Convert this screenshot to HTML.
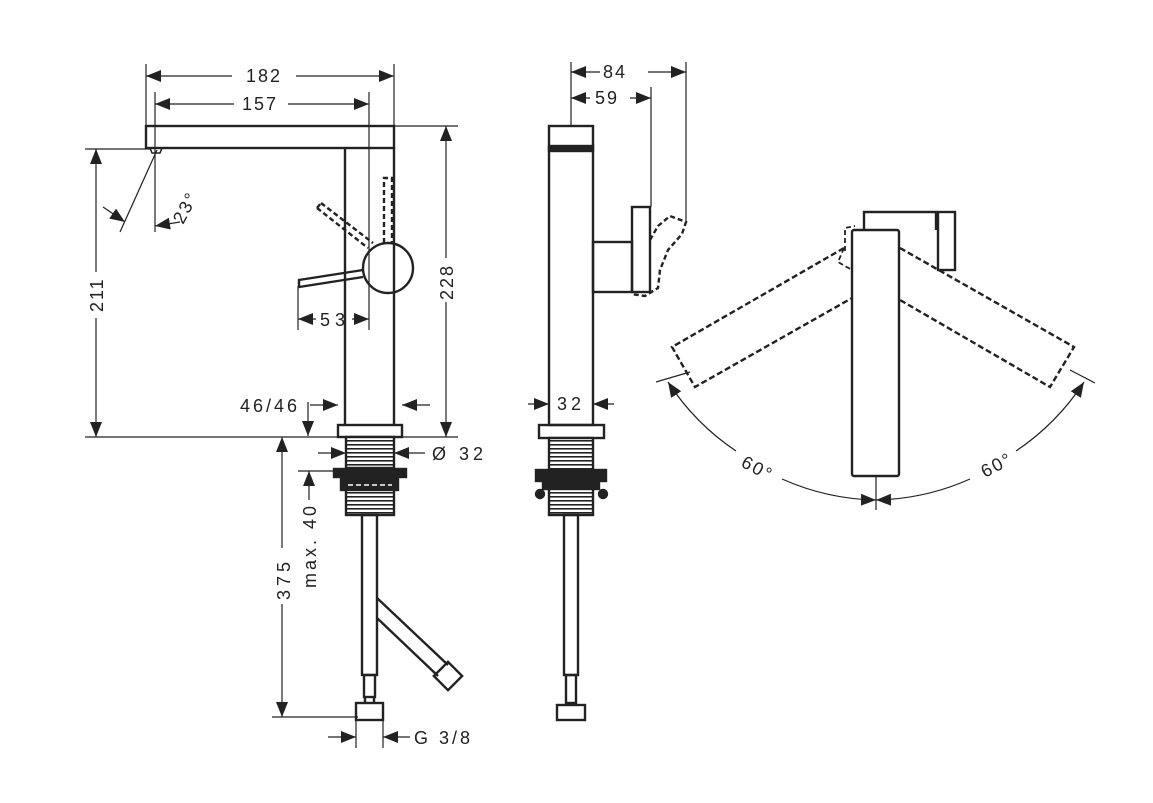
<!DOCTYPE html>
<html><head><meta charset="utf-8"><style>
html,body{margin:0;padding:0;background:#fff;}
svg{display:block}
text{font-family:"Liberation Sans",sans-serif;font-size:18px;fill:#222;letter-spacing:2px}
</style></head><body>
<svg width="1153" height="803" viewBox="0 0 1153 803" xmlns="http://www.w3.org/2000/svg">
<defs>
<marker id="a" markerUnits="userSpaceOnUse" markerWidth="16" markerHeight="12" refX="15" refY="6" orient="auto-start-reverse"><path d="M0,0 L15,6 L0,12 z" fill="#222"/></marker>
<pattern id="th" width="4" height="4" patternUnits="userSpaceOnUse"><rect width="4" height="4" fill="#fff"/><rect y="0" width="4" height="1.6" fill="#222"/></pattern>
</defs>
<g fill="none" stroke="#222" stroke-width="1.2">
<line x1="146" y1="64" x2="146" y2="126"/><line x1="394" y1="64" x2="394" y2="126"/>
<line x1="146" y1="76" x2="232" y2="76" marker-start="url(#a)"/><line x1="296" y1="76" x2="394" y2="76" marker-end="url(#a)"/>
<line x1="155" y1="92" x2="155" y2="232"/><line x1="369" y1="92" x2="369" y2="330"/>
<line x1="155" y1="104" x2="234" y2="104" marker-start="url(#a)"/><line x1="288" y1="104" x2="369" y2="104" marker-end="url(#a)"/>
<line x1="85" y1="149" x2="150" y2="149"/><line x1="85" y1="437" x2="458" y2="437"/><line x1="394" y1="126" x2="458" y2="126"/>
<line x1="96" y1="149" x2="96" y2="272" marker-start="url(#a)"/><line x1="96" y1="318" x2="96" y2="437" marker-end="url(#a)"/>
<line x1="446" y1="126" x2="446" y2="258" marker-start="url(#a)"/><line x1="446" y1="302" x2="446" y2="437" marker-end="url(#a)"/>
<line x1="157" y1="150" x2="120" y2="232"/>
<line x1="103" y1="207" x2="125" y2="222" marker-end="url(#a)"/>
<line x1="180" y1="222" x2="155" y2="226" marker-end="url(#a)"/>
<line x1="298" y1="286" x2="298" y2="330"/>
<line x1="298" y1="319" x2="316" y2="319" marker-start="url(#a)"/><line x1="352" y1="319" x2="369" y2="319" marker-end="url(#a)"/>
<line x1="310" y1="405" x2="338" y2="405" marker-end="url(#a)"/><line x1="430" y1="405" x2="402" y2="405" marker-end="url(#a)"/>
<line x1="308" y1="402" x2="308" y2="436" marker-end="url(#a)"/>
<line x1="282" y1="437" x2="282" y2="548" marker-start="url(#a)"/><line x1="282" y1="604" x2="282" y2="717" marker-end="url(#a)"/>
<line x1="272" y1="717" x2="358" y2="717"/>
<line x1="318" y1="453" x2="346" y2="453" marker-end="url(#a)"/><line x1="425" y1="453" x2="394" y2="453" marker-end="url(#a)"/>
<line x1="298" y1="471" x2="340" y2="471"/>
<line x1="309" y1="471" x2="309" y2="500" marker-start="url(#a)"/>
<line x1="356" y1="720" x2="356" y2="748"/><line x1="383" y1="720" x2="383" y2="748"/>
<line x1="328" y1="737" x2="356" y2="737" marker-end="url(#a)"/><line x1="410" y1="737" x2="383" y2="737" marker-end="url(#a)"/>
</g>
<g fill="none" stroke="#222" stroke-width="2.4">
<rect x="146" y="126" width="248" height="22"/>
<path d="M150,148 L162,148 L160,153 L152,153z" stroke-width="1.5"/>
<line x1="345" y1="148" x2="345" y2="425"/><line x1="394" y1="148" x2="394" y2="425"/>
<rect x="338" y="425" width="64" height="12"/>
<rect x="346" y="437" width="48" height="31" fill="url(#th)"/>
<rect x="334" y="469" width="72" height="8" fill="#222"/>
<rect x="341" y="477" width="57" height="13" fill="#222"/>
<line x1="348" y1="485" x2="392" y2="485" stroke="#fff" stroke-width="1.5" stroke-dasharray="5,3"/>
<rect x="346" y="490" width="48" height="25" fill="url(#th)"/>
<rect x="362" y="515" width="15" height="160"/>
<rect x="364" y="675" width="11" height="22"/>
<rect x="356" y="703" width="27" height="17"/>
<line x1="365" y1="697" x2="365" y2="703"/><line x1="374" y1="697" x2="374" y2="703"/>
<path d="M377,598 L448,665 M377,618 L438,676"/>
<rect x="438" y="666" width="20" height="20" transform="rotate(-45 448 676)"/>
<circle cx="388" cy="268" r="25"/>
<path d="M363,270 L299,280 L299,287 L363,277"/>
<path d="M317,208 L368,248 M321,203 L373,243 M317,208 L321,203" stroke-dasharray="5,3"/>
<path d="M384,243 L384,178 L392,178 L392,243" stroke-dasharray="5,3"/>
<rect x="549" y="126" width="44" height="299"/>
<rect x="549" y="146" width="44" height="5" fill="#222"/>
<rect x="539" y="425" width="65" height="13"/>
<rect x="549" y="438" width="44" height="32" fill="url(#th)"/>
<rect x="536" y="470" width="70" height="11" fill="#222"/>
<rect x="543" y="481" width="56" height="8" fill="#222"/>
<circle cx="540" cy="494" r="4" fill="#222"/><circle cx="603" cy="494" r="4" fill="#222"/>
<rect x="549" y="489" width="44" height="26" fill="url(#th)"/>
<rect x="564" y="515" width="14" height="160"/>
<rect x="566" y="675" width="10" height="28"/>
<rect x="557" y="705" width="28" height="15"/>
<rect x="593" y="242" width="39" height="50"/>
<rect x="632" y="207" width="18" height="85"/>
<path d="M650,240 L658,226 L670,216 L686,222 L682,234 L668,250 L660,270 L658,288 L645,296 L631,294" stroke-dasharray="5,3"/>
<rect x="852" y="230" width="47" height="246" rx="2"/>
<path d="M864,229 L864,212 L936,212 L936,230"/>
<rect x="938" y="212" width="17" height="58"/>
<path d="M844,248 L672,347 L695,387 L852,298" stroke-dasharray="6,3"/>
<path d="M900,248 L1074,347 L1050,387 L900,300" stroke-dasharray="6,3"/>
<path d="M845,251 L845,228 L855,226 M844,248 L838,262 L852,270" stroke-dasharray="5,3" stroke-width="1.8"/>
</g>
<g fill="none" stroke="#222" stroke-width="1.2">
<line x1="571" y1="62" x2="571" y2="126"/><line x1="686" y1="62" x2="686" y2="222"/><line x1="651" y1="87" x2="651" y2="207"/>
<line x1="571" y1="72" x2="600" y2="72" marker-start="url(#a)"/><line x1="648" y1="72" x2="686" y2="72" marker-end="url(#a)"/>
<line x1="571" y1="98" x2="590" y2="98" marker-start="url(#a)"/><line x1="630" y1="98" x2="651" y2="98" marker-end="url(#a)"/>
<line x1="528" y1="404" x2="549" y2="404" marker-end="url(#a)"/><line x1="614" y1="404" x2="593" y2="404" marker-end="url(#a)"/>
<line x1="876" y1="476" x2="876" y2="510"/>
<line x1="656" y1="382" x2="690" y2="372"/><line x1="1070" y1="370" x2="1095" y2="383"/>
<path d="M736,451 A242,242 0 0 1 668,382" marker-end="url(#a)"/>
<path d="M782,479 A242,242 0 0 0 876,500" marker-end="url(#a)"/>
<path d="M1016,451 A242,242 0 0 0 1084,382" marker-end="url(#a)"/>
<path d="M970,479 A242,242 0 0 1 876,500" marker-end="url(#a)"/>
</g>
<g>
<text x="246" y="82">182</text>
<text x="242" y="110">157</text>
<text x="320" y="326" style="letter-spacing:5px">53</text>
<text x="240" y="412" style="letter-spacing:3px">46/46</text>
<text x="432" y="460" style="letter-spacing:4px">Ø 32</text>
<text x="414" y="744" style="letter-spacing:3px">G 3/8</text>
<text x="603" y="78">84</text>
<text x="595" y="104">59</text>
<text x="557" y="410" style="letter-spacing:4px">32</text>
<text transform="translate(103,312) rotate(-90)">211</text>
<text transform="translate(453,300) rotate(-90)">228</text>
<text transform="translate(290,600) rotate(-90)" style="letter-spacing:4px">375</text>
<text transform="translate(316,588) rotate(-90)" style="letter-spacing:3px">max. 40</text>
<text transform="translate(183,225) rotate(-62)">23°</text>
<text transform="translate(740,466) rotate(28)">60°</text>
<text transform="translate(985,478) rotate(-28)">60°</text>
</g>
</svg>
</body></html>
